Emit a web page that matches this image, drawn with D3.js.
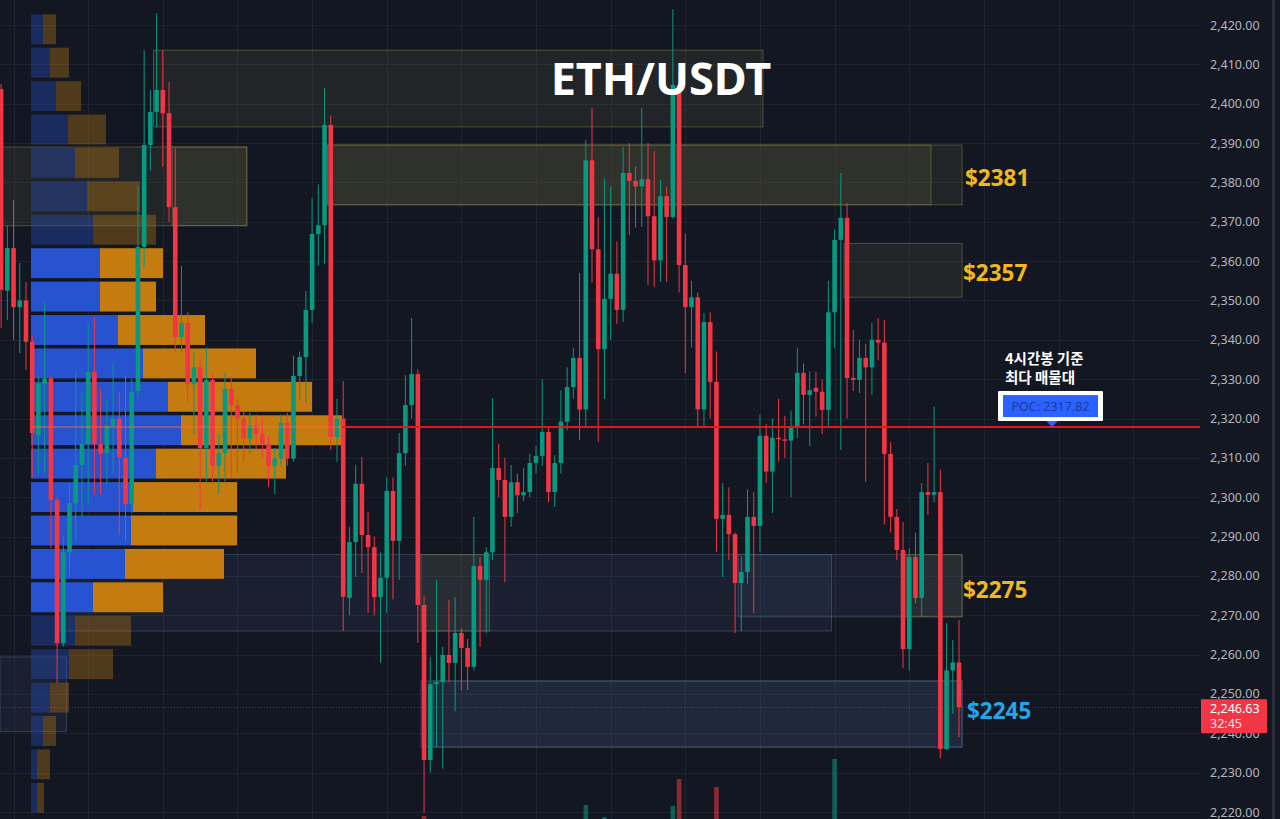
<!DOCTYPE html>
<html><head><meta charset="utf-8">
<script src="https://cdn.jsdelivr.net/npm/d3@7"></script>
<style>html,body{margin:0;padding:0;background:#131722;}svg{display:block;}</style>
</head><body>
<script>
// ---------------- DATA ----------------
const opens  = [2403.7,2352.5,2363.3,2348.3,2350,2339.5,2315.8,2328.8,2330.2,2299.3,2262.9,2286,2298.4,2308.2,2313.5,2331.8,2313.5,2311.2,2318.1,2320,2310,2298.2,2327,2363.6,2389.5,2397.9,2403.5,2397.6,2373.7,2340.7,2344.3,2328.7,2333,2312.5,2329.8,2308,2311.2,2327.5,2323.4,2320,2314.9,2318.2,2316.1,2313.5,2308,2309.8,2318.9,2309.8,2330.8,2335.6,2347.6,2366.9,2369.1,2394.6,2315.3,2320,2274.4,2288.6,2303.4,2290.4,2287.3,2274.6,2279.5,2301.6,2288.9,2311.2,2323.4,2331.3,2272.6,2233.2,2252.5,2253,2259.9,2257.9,2265.5,2261.7,2256.9,2282.5,2279,2286,2307.4,2304.4,2295,2303.8,2300.5,2301.3,2308.7,2310.5,2316.6,2301.3,2308.7,2319.2,2328,2335.4,2322.3,2385.6,2363,2337.6,2350.4,2356.8,2347.6,2382.4,2380.4,2379,2380.8,2371.4,2360.2,2376.5,2371.2,2404.8,2359,2348.3,2350.8,2322.3,2344.5,2329.3,2294.5,2295.5,2290.6,2278.2,2281,2295,2292.7,2315.6,2306.5,2315.1,2314.7,2314.4,2317.8,2331.6,2326,2327.8,2326.8,2322.2,2347,2365.4,2371,2330.3,2329.8,2335.4,2333,2340,2339.3,2311,2295,2286.6,2261.4,2284.8,2274.4,2301.3,2300.6,2301.3,2236,2256,2258];
const highs  = [2405,2369,2375.5,2359.5,2354.7,2341,2331,2349.5,2331,2300,2290,2303.6,2332,2327,2344,2345.8,2327.7,2325,2334,2326.7,2331,2330,2379,2413.6,2403.5,2423,2413.6,2405.5,2388.7,2358.8,2347,2337,2335.3,2338,2331.5,2316,2331.5,2330.8,2325,2321.7,2321.5,2321,2320,2315.5,2312.5,2321,2321.5,2336,2337,2352.4,2376,2379.5,2404,2397,2325,2329.5,2292.5,2308.2,2310.2,2296.3,2290,2286,2305,2305,2316.3,2331,2345.5,2332.5,2275,2259.4,2279,2262,2273.9,2274.6,2266.8,2264,2295,2284.8,2287.3,2325.2,2313.5,2310,2308.2,2306,2307.5,2311,2313,2330,2317.6,2310.7,2327.2,2333,2338,2357,2390.8,2399,2371.2,2381,2379,2365,2389,2390,2384,2399,2390,2388,2380.6,2378.8,2424,2408,2367,2355,2352,2346.8,2347,2337,2303.6,2302.5,2291,2284.8,2302,2301.3,2321,2318.6,2320,2325,2320.6,2322,2338,2334,2332,2331.8,2330,2355,2368,2382.4,2374.7,2342.5,2340,2339,2344.3,2345.5,2345,2314,2297,2293.7,2287,2291,2303.6,2308.7,2323,2307,2268,2263.7,2268.8];
const lows   = [2343,2345,2340,2336.6,2332.3,2305,2306,2306,2287,2252.8,2262,2280,2289,2295,2298,2300.6,2300.6,2303,2306,2290.4,2289,2296,2325,2358.5,2383,2394,2384,2370,2337,2337,2324.4,2316,2297,2304,2304,2300.8,2304,2305,2306,2309,2311,2312,2310,2302.6,2300.8,2308,2308,2309,2324.5,2324,2344.3,2358.8,2359.3,2312,2309,2266,2270,2279.7,2280.7,2270.6,2270,2257.9,2270.6,2274,2279,2308,2320,2263,2219.8,2230,2236.5,2231,2253,2245.6,2251,2251,2256,2262,2265.5,2284,2300,2278.4,2292.5,2296,2299,2300,2306,2308,2298.7,2297.5,2306,2317,2325,2314.5,2318,2354.5,2314,2325,2340,2344,2344.5,2366.6,2368.5,2368.7,2354,2353.4,2354.7,2354.7,2370.8,2352,2331.5,2338,2318,2318,2320,2286,2279.7,2284,2265.5,2266,2278,2270.5,2286,2303.6,2296,2309,2310,2300,2315,2318.5,2313,2320.5,2316,2318,2338,2312,2320,2327,2326.5,2304,2326,2334.8,2293,2291,2284,2256.6,2256,2273,2269.6,2295.5,2298.8,2233.7,2235.7,2245,2239];
const closes = [2352.7,2363.3,2348.3,2350,2339.5,2316.3,2328.8,2330.2,2299.3,2262.9,2286,2298.5,2308.2,2313.5,2331.8,2313.5,2311.2,2318.1,2320,2310.1,2298.2,2326.7,2363.6,2389.5,2397.9,2403.5,2397.6,2373.7,2340.7,2344.3,2328.7,2333,2312.5,2329.8,2308,2311.2,2327.5,2323.4,2320,2314.9,2318.2,2316.1,2313.5,2308,2309.8,2318.9,2309.8,2330.8,2335.6,2347.6,2366.9,2369.1,2394.6,2315.3,2320,2274.7,2288.6,2303.4,2290.4,2287.3,2274.6,2279.5,2301.6,2288.9,2311.2,2323.4,2331.3,2272.6,2233.2,2252.5,2253,2259.9,2257.9,2265.5,2261.7,2256.9,2282.5,2279,2286,2307.4,2304.4,2295,2303.8,2300.5,2301.3,2308.7,2310.5,2316.6,2301.3,2308.7,2319.2,2328,2335.4,2322.3,2385.6,2363,2337.6,2350.4,2356.8,2347.6,2382.4,2380.4,2379,2380.8,2371.4,2360.2,2376.5,2371.2,2404.8,2359,2348.3,2350.8,2322.3,2344.5,2329.3,2294.5,2295.5,2290.6,2278.2,2281,2295,2292.7,2315.6,2306.5,2315.1,2314.7,2314.4,2317.8,2331.6,2326,2327.2,2326.8,2322.2,2347,2365.4,2371,2330.3,2329.8,2335.4,2333,2340,2339.3,2311,2295,2286.6,2261.4,2284.8,2274.4,2301.3,2300.6,2301.3,2236,2256,2258,2246.63];

// visible volume bars (candle index, volume)
const volumeIndex = [68, 94, 97, 108, 109, 115, 134];
const volumeValue = [3, 14, 2, 13, 40, 32, 60];

// volume profile (24 rows from top), buy / sell volume
const profileHigh = 2423.1, profileLow = 2219.3;
const profileUp   = [12,19,25,37,44,56,62,69,69,87,112,137,150,125,102,100,94,62,44,38,19,12,6,6];
const profileDown = [13,19,25,38,44,53,63,63,56,87,113,144,161,130,104,106,99,70,56,44,19,13,13,7];
const valueArea = [7, 17];

const pocPrice = 2317.82;
const lastPrice = 2246.63;
const countdown = "32:45";

const priceTicks = d3.range(2220, 2421, 10);

// zones: [fromIndex, toIndex, topPrice, bottomPrice, kind]
const zoneFrom   = [25, 53, 53, 0, 28, 136, 10, 68, 119, 146, 68, 70, 0];
const zoneTo     = [122, 154, 149, 39, 39, 154, 133, 78, 154, 154, 154, 154, 10];
const zoneTop    = [2413.6, 2389.5, 2389.5, 2389, 2389, 2364.5, 2285.4, 2285.4, 2285.4, 2285.4, 2253.3, 2253.3, 2259.4];
const zoneBottom = [2394.1, 2374.3, 2374.3, 2369, 2369, 2350.8, 2266, 2266, 2269.6, 2269.6, 2236.5, 2236.5, 2240.5];
const zoneKind   = ["olive","olive","olive","olive","olive","olive","blue","olive","blue","olive","blue","blue","blue"];

const zoneLabels = ["$2381", "$2357", "$2275", "$2245"];
const zoneLabelPrice = [2381, 2357, 2276.4, 2245.6];
const zoneLabelX = [965, 963, 963, 967];
const zoneLabelColor = ["#f2b71d", "#f2b71d", "#f2b71d", "#22a6e6"];

const titleText = "ETH/USDT";
const noteLines = ["4시간봉 기준", "최다 매물대"];

// ---------------- CHART ----------------
const W = 1280, H = 819;
const plotRight = 1200;
const svg = d3.select("body").append("svg").attr("width", W).attr("height", H);
svg.append("rect").attr("width", W).attr("height", H).attr("fill", "#131722");

const y = d3.scaleLinear().domain([2220, 2420]).range([812, 25]);
const x = d3.scaleLinear().domain([0, 154]).range([1.1, 959]);
const step = x(1) - x(0);
const bodyW = 4.6;

// grid
const grid = svg.append("g");
grid.selectAll("line.h").data(priceTicks).join("line")
  .attr("x1", 0).attr("x2", plotRight)
  .attr("y1", d => Math.round(y(d)) + 0.5).attr("y2", d => Math.round(y(d)) + 0.5)
  .attr("stroke", "#1e2230").attr("stroke-width", 1);
const vIdx = d3.range(2, 200, 12).filter(i => x(i) < plotRight);
grid.selectAll("line.v").data(vIdx).join("line")
  .attr("x1", d => Math.round(x(d)) + 0.5).attr("x2", d => Math.round(x(d)) + 0.5)
  .attr("y1", 0).attr("y2", H)
  .attr("stroke", "#1e2230").attr("stroke-width", 1);

// zones
const zones = zoneFrom.map((f, i) => ({f, t: zoneTo[i], top: zoneTop[i], bot: zoneBottom[i], k: zoneKind[i]}));
svg.append("g").selectAll("rect").data(zones).join("rect")
  .attr("x", d => d.f === 0 ? 0 : x(d.f) - step / 2)
  .attr("width", d => x(d.t) + step / 2 - (d.f === 0 ? 0 : x(d.f) - step / 2))
  .attr("y", d => y(d.top)).attr("height", d => y(d.bot) - y(d.top))
  .attr("fill", d => d.k === "olive" ? "rgba(120,115,70,0.16)" : "rgba(70,95,135,0.14)")
  .attr("stroke", d => d.k === "olive" ? "rgba(150,140,70,0.45)" : "rgba(90,115,150,0.45)")
  .attr("stroke-width", 1);

// volume profile
const rowH = (profileHigh - profileLow) / profileUp.length;
const px = d3.scaleLinear().domain([0, 311]).range([31, 342]);
const prof = profileUp.map((u, i) => ({i, u, d: profileDown[i], top: profileHigh - i * rowH, bot: profileHigh - (i + 1) * rowH}));
const pg = svg.append("g");
prof.forEach(r => {
  const inVA = r.i >= valueArea[0] && r.i <= valueArea[1];
  const op = inVA ? 1 : 0.35;
  const y0 = y(r.top) + 1.5, h = y(r.bot) - y(r.top) - 3.5;
  pg.append("rect").attr("x", px(0)).attr("y", y0).attr("width", px(r.u) - px(0)).attr("height", h)
    .attr("fill", "#2753d1").attr("opacity", op);
  pg.append("rect").attr("x", px(r.u)).attr("y", y0).attr("width", px(r.u + r.d) - px(r.u)).attr("height", h)
    .attr("fill", "#c47b10").attr("opacity", op);
});

// volume bars (bottom, mostly hidden)
const vy = d3.scaleLinear().domain([0, 60]).range([819, 759]);
svg.append("g").selectAll("rect").data(volumeIndex.map((d, i) => ({i: d, v: volumeValue[i]}))).join("rect")
  .attr("x", d => x(d.i) - bodyW / 2).attr("width", bodyW)
  .attr("y", d => vy(d.v)).attr("height", d => vy(0) - vy(d.v))
  .attr("fill", d => closes[d.i] >= opens[d.i] ? "rgba(8,153,129,0.55)" : "rgba(242,54,69,0.55)");

// candles
const candles = opens.map((o, i) => ({i, o, h: highs[i], l: lows[i], c: closes[i]}));
const cg = svg.append("g");
cg.selectAll("line").data(candles).join("line")
  .attr("x1", d => x(d.i)).attr("x2", d => x(d.i))
  .attr("y1", d => y(d.h)).attr("y2", d => y(d.l))
  .attr("stroke", d => d.c >= d.o ? "#089981" : "#f23645").attr("stroke-width", 1);
cg.selectAll("rect").data(candles).join("rect")
  .attr("x", d => x(d.i) - bodyW / 2).attr("width", bodyW)
  .attr("y", d => y(Math.max(d.o, d.c)))
  .attr("height", d => Math.max(1.5, Math.abs(y(d.o) - y(d.c))))
  .attr("fill", d => d.c >= d.o ? "#089981" : "#f23645");

// POC line
svg.append("line").attr("x1", px(0)).attr("x2", px(311)).attr("y1", y(pocPrice)).attr("y2", y(pocPrice))
  .attr("stroke", "#ff6a3d").attr("stroke-width", 1.5).attr("opacity", 0.6);
svg.append("line").attr("x1", px(311)).attr("x2", plotRight).attr("y1", y(pocPrice)).attr("y2", y(pocPrice))
  .attr("stroke", "#e8141c").attr("stroke-width", 2);

// last price dotted line
svg.append("line").attr("x1", 0).attr("x2", plotRight).attr("y1", Math.round(y(lastPrice)) + 0.5).attr("y2", Math.round(y(lastPrice)) + 0.5)
  .attr("stroke", "rgba(242,54,69,0.45)").attr("stroke-width", 1).attr("stroke-dasharray", "1,2");

// title
svg.append("text").attr("x", 661).attr("y", 95).attr("text-anchor", "middle")
  .attr("font-family", "'Noto Sans', sans-serif").attr("font-weight", 700).attr("font-size", 45)
  .attr("fill", "#ffffff").text(titleText);

// zone labels
svg.append("g").selectAll("text").data(zoneLabels).join("text")
  .attr("x", (d, i) => zoneLabelX[i])
  .attr("y", (d, i) => y(zoneLabelPrice[i]) + 8)
  .attr("font-family", "'Noto Sans', sans-serif").attr("font-weight", 700).attr("font-size", 22.5)
  .attr("fill", (d, i) => zoneLabelColor[i]).text(d => d);

// note text
svg.append("g").selectAll("text").data(noteLines).join("text")
  .attr("x", 1005).attr("y", (d, i) => 364 + i * 19)
  .attr("font-family", "'Noto Sans CJK KR', sans-serif").attr("font-weight", 600).attr("font-size", 14.5)
  .attr("fill", "#ffffff").text(d => d);

// POC label
const pocY = y(pocPrice);
svg.append("rect").attr("x", 998).attr("y", pocY - 36).attr("width", 105).attr("height", 30).attr("fill", "#ffffff").attr("rx", 1);
svg.append("rect").attr("x", 1003).attr("y", pocY - 32).attr("width", 95).attr("height", 22).attr("fill", "#2962ff");
svg.append("path").attr("d", `M1046,${pocY - 6} L1058,${pocY - 6} L1052,${pocY}Z`).attr("fill", "#2962ff");
svg.append("text").attr("x", 1050.5).attr("y", pocY - 16.5).attr("text-anchor", "middle")
  .attr("font-family", "'Noto Sans', sans-serif").attr("font-size", 12.5).attr("fill", "#1e3a9a")
  .text("POC: " + pocPrice.toFixed(2));

// price axis
const fmt = d3.format(",.2f");
svg.append("g").selectAll("text").data(priceTicks).join("text")
  .attr("x", 1210).attr("y", d => y(d) + 4.5)
  .attr("font-family", "'Noto Sans', sans-serif").attr("font-size", 12.5)
  .attr("fill", "#b2b5be").text(d => fmt(d));
svg.append("rect").attr("x", 1272).attr("y", 0).attr("width", 3).attr("height", H).attr("fill", "#2a2e39");

// last price tag
const lpY = y(lastPrice);
svg.append("rect").attr("x", 1201).attr("y", lpY - 8).attr("width", 66).attr("height", 34).attr("fill", "#f23645").attr("rx", 1);
svg.append("text").attr("x", 1210).attr("y", lpY + 6).attr("font-family", "'Noto Sans', sans-serif").attr("font-size", 12.5)
  .attr("fill", "#ffffff").text(fmt(lastPrice));
svg.append("text").attr("x", 1210).attr("y", lpY + 21).attr("font-family", "'Noto Sans', sans-serif").attr("font-size", 12.5)
  .attr("fill", "#ffe0e3").text(countdown);
</script>
</body></html>
